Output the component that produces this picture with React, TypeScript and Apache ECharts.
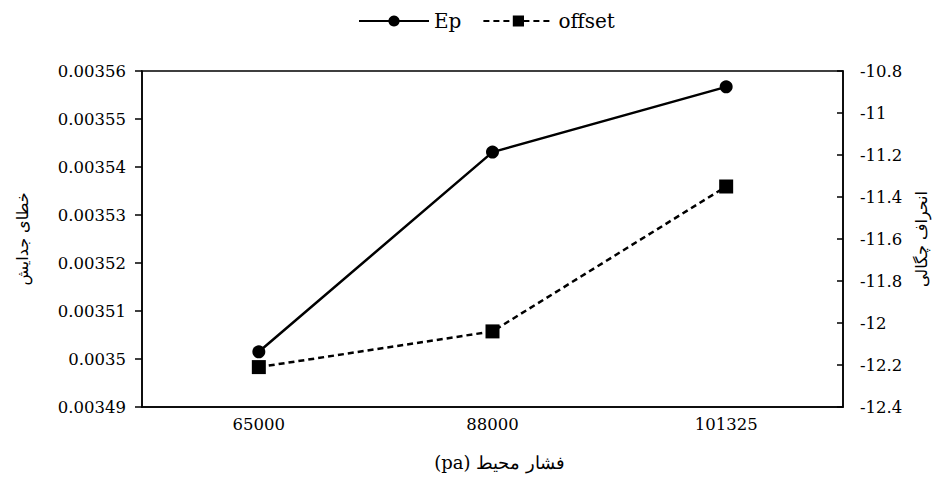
import React, { useEffect, useRef } from "react";
import * as echarts from "echarts";

const categories = ["65000", "88000", "101325"];
const epValues = [0.0035015, 0.0035431, 0.0035567];
const offsetValues = [-12.21, -12.04, -11.35];

const leftTitle = "خطای جدایش";
const rightTitle = "انحراف چگالی";
const bottomTitle = "(pa) فشار محیط";

const FONT = "DejaVu Serif";
const AR_FONT = "DejaVu Sans";

export default function App() {
  const ref = useRef<HTMLDivElement>(null);
  useEffect(() => {
    if (!ref.current) return;
    const chart = echarts.init(ref.current, undefined, { renderer: "svg" });
    chart.setOption({
      animation: false,
      backgroundColor: "#ffffff",
      textStyle: { fontFamily: FONT, color: "#000" },
      legend: {
        top: 6,
        left: 353,
        itemWidth: 70,
        itemHeight: 14,
        itemGap: 21,
        textStyle: { fontFamily: FONT, fontSize: 20, color: "#000" },
        data: ["Ep", "offset"],
      },
      grid: {
        left: 142,
        right: 107,
        top: 71,
        bottom: 76,
        show: true,
        borderColor: "#000",
        borderWidth: 1.5,
        backgroundColor: "transparent",
      },
      xAxis: {
        type: "category",
        data: categories,
        boundaryGap: true,
        name: bottomTitle,
        nameLocation: "middle",
        nameGap: 46,
        nameTextStyle: { fontFamily: FONT, fontSize: 18, color: "#000", padding: [0, 0, 0, 14] },
        axisLine: { lineStyle: { color: "#000", width: 1.5 } },
        axisTick: { inside: true, length: 6, lineStyle: { color: "#000", width: 1.5 } },
        axisLabel: { fontFamily: FONT, fontSize: 16.5, color: "#000", margin: 9 },
        splitLine: { show: false },
      },
      yAxis: [
        {
          type: "value",
          min: 0.00349,
          max: 0.00356,
          interval: 0.00001,
          name: leftTitle,
          nameLocation: "middle",
          nameGap: 112,
          nameRotate: 90,
          nameTextStyle: { fontFamily: AR_FONT, fontSize: 16, color: "#000" },
          axisLine: { show: true, lineStyle: { color: "#000", width: 1.5 } },
          axisTick: { show: true, inside: false, length: 7, lineStyle: { color: "#000", width: 1.5 } },
          axisLabel: {
            fontFamily: FONT,
            fontSize: 16.5,
            color: "#000",
            margin: 16,
            formatter: (v: number) => String(parseFloat(v.toPrecision(6))),
          },
          splitLine: { show: false },
        },
        {
          type: "value",
          min: -12.4,
          max: -10.8,
          interval: 0.2,
          position: "right",
          name: rightTitle,
          nameLocation: "middle",
          nameGap: 70,
          nameRotate: 90,
          nameTextStyle: { fontFamily: AR_FONT, fontSize: 16, color: "#000" },
          axisLine: { show: true, lineStyle: { color: "#000", width: 1.5 } },
          axisTick: { show: true, inside: true, length: 6, lineStyle: { color: "#000", width: 1.5 } },
          axisLabel: {
            fontFamily: FONT,
            fontSize: 16.5,
            color: "#000",
            margin: 17,
            formatter: (v: number) => String(parseFloat(v.toFixed(2))),
          },
          splitLine: { show: false },
        },
      ],
      series: [
        {
          name: "Ep",
          type: "line",
          yAxisIndex: 0,
          data: epValues,
          symbol: "circle",
          symbolSize: 13,
          lineStyle: { color: "#000", width: 2.5, type: "solid" },
          itemStyle: { color: "#000" },
        },
        {
          name: "offset",
          type: "line",
          yAxisIndex: 1,
          data: offsetValues,
          symbol: "rect",
          symbolSize: 14,
          lineStyle: { color: "#000", width: 2.5, type: [6, 4] },
          itemStyle: { color: "#000" },
        },
      ],
    });
    return () => chart.dispose();
  }, []);
  return (
    <div
      ref={ref}
      style={{ position: "absolute", left: 0, top: 0, width: 950, height: 483, background: "#fff" }}
    />
  );
}
